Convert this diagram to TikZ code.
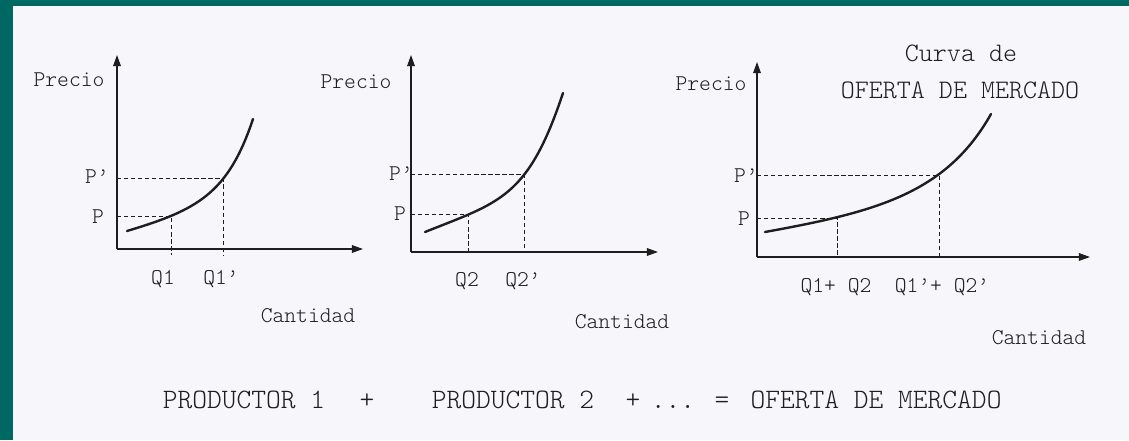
\documentclass[tikz,border=0pt]{standalone}
\usepackage{fontspec}
\setmonofont{lmmonolt10-regular.otf}
\usetikzlibrary{
	arrows.meta,
	positioning
}
\definecolor{FrameTeal}{HTML}{006862}
\definecolor{PaperWhite}{HTML}{F7F6FB}
\definecolor{CurveInk}{HTML}{1E1E1E}

\begin{document}
\begin{tikzpicture}[
 x=0.025cm,y=-0.025cm,
 font=\ttfamily,
 axis/.style={draw=CurveInk,line width=.9pt,-{Triangle[length=8pt,width=5.5pt]}},
 supply/.style={draw=CurveInk,line width=1.7pt,line cap=round},
 guide/.style={draw=CurveInk,line width=.6pt,dash pattern=on 3pt off 2pt},
 lbl/.style={text=CurveInk,inner sep=0pt,font=\ttfamily\fontsize{16}{18}\selectfont},
 title/.style={lbl,font=\ttfamily\fontsize{19}{22}\selectfont},
 sumtext/.style={lbl,anchor=base,font=\ttfamily\fontsize{20}{24}\selectfont}
]
 % page and frame
 \fill[FrameTeal] (0,0) rectangle (1129,440);
 \fill[PaperWhite] (13,6) rectangle (1129,440);
 \useasboundingbox (0,0) rectangle (1129,440);

 % productor 1
 \coordinate (o1) at (117,249);
 \coordinate (a1) at (171,216);
 \coordinate (b1) at (223,178);
 \draw[axis] (o1) -- (117,55);
 \draw[axis] (o1) -- (363,249);
 \draw[guide] (o1 |- a1) -- (a1) -- (171,255);
 \draw[guide] (o1 |- b1) -- (b1) -- (223,255);
 \draw[supply] (127,231) .. controls (197,210) and (228,194) .. (253,119);
 \node[lbl] (precio1) at (69,80) {Precio};
 \node[lbl] (pp1) at (97,177) {P’};
 \node[lbl] (p1) at (98,217) {P};
 \node[lbl] (q1) at (163,279) {Q1};
 \node[lbl] (qq1) at (221,279) {Q1’};
 \node[lbl] (cant1) at (308,316) {Cantidad};

 % productor 2
 \coordinate (o2) at (411,252);
 \coordinate (a2) at (468,214);
 \coordinate (b2) at (524,174);
 \draw[axis] (o2) -- (411,55);
 \draw[axis] (o2) -- (658,252);
 \draw[guide] (o2 |- a2) -- (a2) -- (a2 |- o2);
 \draw[guide] (o2 |- b2) -- (b2) -- (b2 |- o2);
 \draw[supply] (425,232) .. controls (500,202) and (528,198) .. (563,93);
 \node[lbl] (precio2) at (356,82) {Precio};
 \node[lbl] (pp2) at (401,174) {P’};
 \node[lbl] (p2) at (400,214) {P};
 \node[lbl] (q2) at (467,281) {Q2};
 \node[lbl] (qq2) at (523,281) {Q2’};
 \node[lbl] (cant2) at (622,322) {Cantidad};

 % oferta de mercado
 \coordinate (o3) at (757,257);
 \coordinate (a3) at (837,218);
 \coordinate (b3) at (939,175);
 \draw[axis] (o3) -- (757,62);
 \draw[axis] (o3) -- (1090,257);
 \draw[guide] (o3 |- a3) -- (a3) -- (a3 |- o3);
 \draw[guide] (o3 |- b3) -- (b3) -- (b3 |- o3);
 \draw[supply] (765,232) .. controls (875,212) and (946,194) .. (991,114);
 \node[lbl] (precio3) at (711,84) {Precio};
 \node[lbl] (pp3) at (746,176) {P’};
 \node[lbl] (p3) at (744,219) {P};
 \node[lbl] (q3) at (836,287) {Q1+ Q2};
 \node[lbl] (qq3) at (942,287) {Q1’+ Q2’};
 \node[lbl] (cant3) at (1039,338) {Cantidad};
 \node[title] (curva) at (961,53) {Curva de};
 \node[title] (oferta) at (960,90) {OFERTA DE MERCADO};

 % suma horizontal
 \node[sumtext] (prod1) at (244,408) {PRODUCTOR 1};
 \node[sumtext] (plus1) at (367,408) {+};
 \node[sumtext] (prod2) at (513,408) {PRODUCTOR 2};
 \node[sumtext] (plus2) at (633,408) {+};
 \node[sumtext] (dots) at (673,408) {...};
 \node[sumtext] (equal) at (722,408) {=};
 \node[sumtext] (total) at (876,408) {OFERTA DE MERCADO};
\end{tikzpicture}
\end{document}
